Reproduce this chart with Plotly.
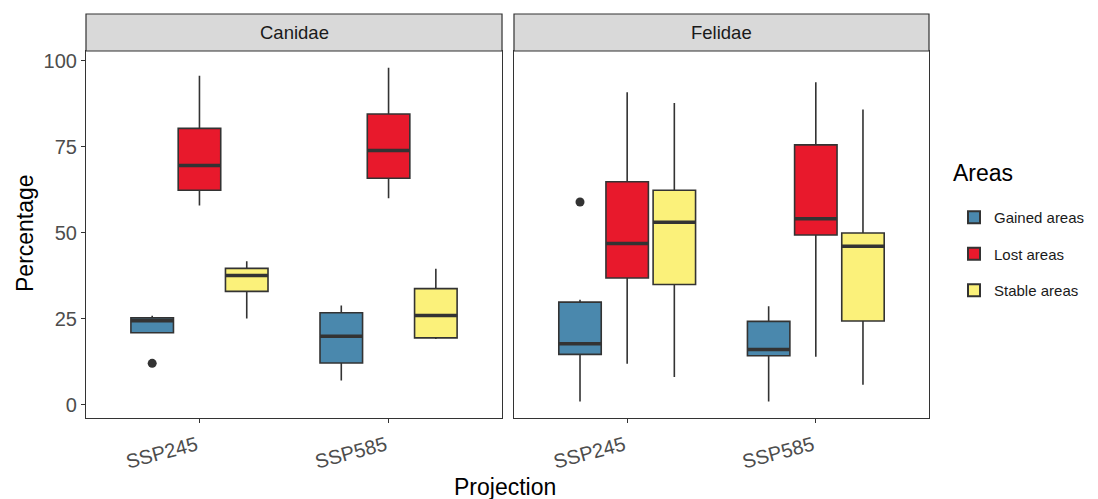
import plotly.graph_objects as go

# ---------------- data ----------------
projections = ["SSP245", "SSP585"]
families = ["Canidae", "Felidae"]
areas = ["Gained areas", "Lost areas", "Stable areas"]
area_colors = ["#4a88ad", "#e8192c", "#fbf17a"]

# Canidae (values per projection: SSP245, SSP585)
can_gained_low = [20.9, 7.0]
can_gained_q1 = [20.9, 12.1]
can_gained_med = [24.4, 19.9]
can_gained_q3 = [25.2, 26.7]
can_gained_up = [25.8, 28.8]
can_gained_out = [[12.0], []]

can_lost_low = [57.9, 60.0]
can_lost_q1 = [62.3, 65.8]
can_lost_med = [69.5, 73.9]
can_lost_q3 = [80.3, 84.5]
can_lost_up = [95.6, 97.9]
can_lost_out = [[], []]

can_stable_low = [25.0, 19.1]
can_stable_q1 = [32.9, 19.4]
can_stable_med = [37.5, 25.9]
can_stable_q3 = [39.6, 33.7]
can_stable_up = [41.7, 39.5]
can_stable_out = [[], []]

# Felidae
fel_gained_low = [0.9, 0.9]
fel_gained_q1 = [14.6, 14.2]
fel_gained_med = [17.7, 16.0]
fel_gained_q3 = [29.8, 24.2]
fel_gained_up = [30.5, 28.6]
fel_gained_out = [[58.9], []]

fel_lost_low = [11.9, 13.9]
fel_lost_q1 = [36.8, 49.3]
fel_lost_med = [46.8, 54.0]
fel_lost_q3 = [64.8, 75.5]
fel_lost_up = [90.8, 93.7]
fel_lost_out = [[], []]

fel_stable_low = [8.0, 5.8]
fel_stable_q1 = [34.9, 24.3]
fel_stable_med = [53.0, 46.0]
fel_stable_q3 = [62.3, 49.9]
fel_stable_up = [87.7, 85.8]
fel_stable_out = [[], []]

y_ticks = [0, 25, 50, 75, 100]

stats = {
    "Canidae": [
        (can_gained_low, can_gained_q1, can_gained_med, can_gained_q3, can_gained_up, can_gained_out),
        (can_lost_low, can_lost_q1, can_lost_med, can_lost_q3, can_lost_up, can_lost_out),
        (can_stable_low, can_stable_q1, can_stable_med, can_stable_q3, can_stable_up, can_stable_out),
    ],
    "Felidae": [
        (fel_gained_low, fel_gained_q1, fel_gained_med, fel_gained_q3, fel_gained_up, fel_gained_out),
        (fel_lost_low, fel_lost_q1, fel_lost_med, fel_lost_q3, fel_lost_up, fel_lost_out),
        (fel_stable_low, fel_stable_q1, fel_stable_med, fel_stable_q3, fel_stable_up, fel_stable_out),
    ],
}

# ---------------- figure ----------------
FONT = "Liberation Sans, Arial, sans-serif"
DODGE = 0.25
BOXW = 0.225
DARK = "#333333"

fig = go.Figure()

for fi, fam in enumerate(families):
    xa = "x" if fi == 0 else "x2"
    ya = "y" if fi == 0 else "y2"
    for k, area in enumerate(areas):
        low, q1, med, q3, up, outs = stats[fam][k]
        pos = [ci + (k - 1) * DODGE for ci in range(len(projections))]
        fig.add_trace(go.Box(
            x=pos, q1=q1, median=med, q3=q3, lowerfence=low, upperfence=up,
            width=BOXW, fillcolor=area_colors[k],
            line=dict(color=DARK, width=1.6), whiskerwidth=0,
            boxpoints=False, name=area, legendgroup=area,
            showlegend=(fi == 0), xaxis=xa, yaxis=ya, hoverinfo="skip",
        ))
        # thick median lines
        mx, my = [], []
        for p, m in zip(pos, med):
            mx += [p - BOXW / 2, p + BOXW / 2, None]
            my += [m, m, None]
        fig.add_trace(go.Scatter(
            x=mx, y=my, mode="lines", line=dict(color=DARK, width=3.5),
            showlegend=False, xaxis=xa, yaxis=ya, hoverinfo="skip",
        ))
        # outliers
        ox, oy = [], []
        for p, o in zip(pos, outs):
            for v in o:
                ox.append(p)
                oy.append(v)
        if ox:
            fig.add_trace(go.Scatter(
                x=ox, y=oy, mode="markers",
                marker=dict(color=DARK, size=9),
                showlegend=False, xaxis=xa, yaxis=ya, hoverinfo="skip",
            ))

axis_common = dict(
    showline=True, mirror=True, linecolor=DARK, linewidth=1.2,
    showgrid=False, zeroline=False, ticklen=4,
    tickcolor=DARK, tickwidth=1.1,
    tickfont=dict(family=FONT, size=20, color="#4d4d4d"),
)

xaxis_common = dict(
    range=[-0.6, 1.6], tickvals=list(range(len(projections))), ticktext=projections,
    tickangle=-15, ticks="outside", ticklabelshift=-3, ticklabelstandoff=3,
    **axis_common,
)

# page is offset by the 8px body margin; sizes compensate for that
fig.update_layout(
    width=1090, height=491,
    margin=dict(l=78, r=169, t=43, b=81, autoexpand=False),
    paper_bgcolor="white", plot_bgcolor="white",
    font=dict(family=FONT),
    xaxis=dict(domain=[0, 0.4935], anchor="y", automargin=False, **xaxis_common),
    xaxis2=dict(domain=[0.5077, 1], anchor="y2", automargin=False, **xaxis_common),
    yaxis=dict(domain=[0, 1], range=[-3.9, 102.8], tickvals=y_ticks,
               ticks="outside", anchor="x", automargin=False, **axis_common),
    yaxis2=dict(domain=[0, 1], range=[-3.9, 102.8], tickvals=y_ticks,
                ticks="", showticklabels=False, anchor="x2", automargin=False,
                **axis_common),
    showlegend=True,
    legend=dict(
        x=(954 - 86) / 843, y=(418 - 201) / 367, xanchor="left", yanchor="top",
        font=dict(family=FONT, size=15, color="#1a1a1a"),
        tracegroupgap=14, itemsizing="constant",
        bgcolor="rgba(0,0,0,0)",
    ),
)

# strips
strip_h = 37 / 367
domains = [(0, 0.4935), (0.5077, 1)]
for fi, fam in enumerate(families):
    d0, d1 = domains[fi]
    fig.add_shape(type="rect", xref="paper", yref="paper", x0=d0, x1=d1, y0=1, y1=1 + strip_h,
                  fillcolor="#d9d9d9", line=dict(color=DARK, width=1.2), layer="above")
    fig.add_annotation(text=fam, xref="paper", yref="paper", x=(d0 + d1) / 2, y=1 + strip_h / 2,
                       xanchor="center", yanchor="middle",
                       showarrow=False, font=dict(family=FONT, size=18.5, color="#1a1a1a"))

# axis titles
fig.add_annotation(text="Projection", xref="paper", yref="paper",
                   x=(505 - 86) / 843, y=(418 - 487) / 367, showarrow=False,
                   xanchor="center", yanchor="middle",
                   font=dict(family=FONT, size=23, color="#000"))
fig.add_annotation(text="Percentage", xref="paper", yref="paper",
                   x=(25 - 86) / 843, y=(418 - 233) / 367, textangle=-90,
                   xanchor="center", yanchor="middle",
                   showarrow=False, font=dict(family=FONT, size=23, color="#000"))
# legend title
fig.add_annotation(text="Areas", xref="paper", yref="paper",
                   x=(951 - 86) / 843, y=(418 - 173) / 367, showarrow=False,
                   xanchor="left", yanchor="middle",
                   font=dict(family=FONT, size=23, color="#000"))

fig.write_html("out.html")
